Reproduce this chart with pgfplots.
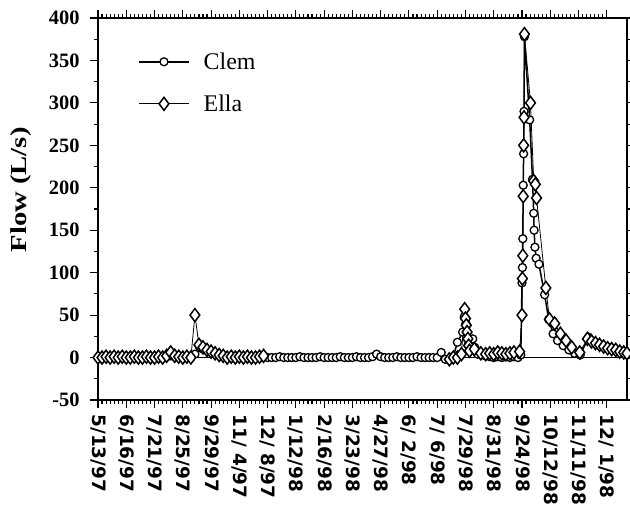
\documentclass[border=0pt]{standalone}
\usepackage{fontspec}
\setmainfont{Liberation Serif}
\newfontfamily\xfont{DejaVu Sans}
\usepackage{graphicx}
\usepackage{pgfplots}
\pgfplotsset{compat=1.18}
\begin{document}
\begin{tikzpicture}
\begin{axis}[
  name=ax,
  scale only axis,
  width=529bp, height=382bp,
  xmin=0, xmax=131,
  ymin=-50, ymax=400,
  ytick={-50,0,...,400},
  minor y tick num=1,
  xtick={0,7,...,126},
  xticklabels={5/13/97,6/16/97,7/21/97,8/25/97,9/29/97,11/ 4/97,12/ 8/97,1/12/98,2/16/98,3/23/98,4/27/98,6/ 2/98,7/ 6/98,7/29/98,8/31/98,9/24/98,10/12/98,11/11/98,12/ 1/98},
  minor x tick num=6,
  tick align=outside,
  major tick length=8bp, minor tick length=4bp,
  axis line style={line width=1.6bp},
  every tick/.style={black, line width=1.1bp},
  /pgf/number format/assume math mode=true,
  yticklabel style={font=\bfseries\fontsize{20.5}{20.5}\selectfont},
  yticklabel shift=7bp,
  xticklabel style={font=\xfont\bfseries\fontsize{18.5}{18.5}\selectfont, rotate=-90, anchor=west},
  xticklabel shift=3bp,
  ylabel={\scalebox{1.25}[1]{\bfseries Flow (L/s)}},
  ylabel style={font=\fontsize{23}{23}\selectfont, at={(axis description cs:-0.145,0.55)}, anchor=center},
  unbounded coords=jump,
  legend style={at={(0.07,0.92)}, anchor=north west, draw=none, fill=none,
    font=\fontsize{24}{24}\selectfont, row sep=20bp, column sep=12bp},
  legend cell align=left,
  legend image code/.code={\draw[mark repeat=2,mark phase=2] plot coordinates {(0bp,0bp) (25bp,0bp) (50bp,0bp)};},
]
% zero line
\addplot[black, line width=1bp, forget plot] coordinates {(0,0) (131,0)};

% Clem
\addplot[black, line width=1.5bp, mark=*, mark size=4bp,
  mark options={fill=white, line width=1.3bp, solid}] coordinates {
(0,0) (1,0) (2,0) (3,1) (4,0) (5,0) (6,0) (7,1) (8,0) (9,0) (10,0) (11,1) (12,0) (13,0)
(14,0) (15,1) (16,0) (17,1) (18,2) (19,1) (20,0) (21,0) (22,1) (23,0) (24,4) (25,14)
(26,10) (27,8) (28,6) (29,5) (30,3) (31,2) (32,1) (33,0) (34,1) (35,0) (36,0) (37,1)
(38,0) (39,0) (40,0) (41,1) (42,0) (43,0) (44,0) (45,1) (46,0) (47,0) (48,0) (49,0)
(50,1) (51,0) (52,0) (53,0) (54,0) (55,1) (56,0) (57,0) (58,0) (59,0) (60,1) (61,0)
(62,0) (63,0) (64,1) (65,0) (66,0) (67,0) (68,1) (69,4) (70,1) (71,0) (72,0) (73,0)
(74,1) (75,0) (76,0) (77,0) (78,0) (79,1) (80,0) (81,0) (82,0) (83,0) (84,0) (85,6)
(86,-2) (87,-3) (88,1) (89,18) (90.3,30) (90.7,48) (91.1,40) (91.3,30) (91.5,22)
(91.7,15) (92.0,8) (92.8,22) (93.3,12) (94,4) (95,3) (96,2) (97,1) (98,0) (99,1)
(100,0) (101,1) (102,0) (103,1) (104,0) (104.7,3) (105.0,88) (105.1,106) (105.2,140)
(105.3,203) (105.4,240) (105.5,290) (105.6,378) (106.9,280) (107.6,210) (107.9,170)
(108.0,150) (108.2,130) (108.5,117) (109.2,110) (110.6,74) (111.6,45) (112.7,28)
(113.8,20) (115.2,14) (116.6,9) (118,5) (119.4,3) (121.5,24) (122.5,18) (123.5,16)
(124.5,14) (125.5,12) (126.5,10) (127.5,9) (128.5,7) (129.5,6) (130.5,4) (131,3)
};
\addlegendentry{Clem}

% Ella
\addplot[black, line width=0.8bp, mark=diamond*, mark size=6.5bp,
  mark options={fill=white, line width=1.5bp, solid}] coordinates {
(0,0) (1,0) (2,1) (3,0) (4,1) (5,0) (6,1) (7,0) (8,0) (9,1) (10,0) (11,0) (12,1) (13,0)
(14,0) (15,1) (16,0) (17,2) (18,6) (19,2) (20,1) (21,0) (22,1) (23,0) (24,50) (25,15)
(26,12) (27,9) (28,7) (29,5) (30,3) (31,2) (32,0) (33,1) (34,0) (35,1) (36,0) (37,1)
(38,0) (39,0) (40,1) (41,2) (42,nan)
(87,-2) (88,0) (89,0) (90,4) (90.8,57) (91.0,46) (91.2,38) (91.4,30) (91.6,22)
(91.8,14) (92.0,8) (93.2,10) (94.8,5) (96,4) (97,5) (98,4) (99,6) (100,5) (101,4)
(102,5) (103,6) (104.4,7) (105.0,50) (105.1,93) (105.2,120) (105.3,190) (105.4,250)
(105.5,283) (105.6,381) (107.1,300) (107.9,208) (108.3,204) (108.6,188) (110.9,82)
(111.8,45) (113.1,40) (114.5,28) (115.9,20) (117.3,12) (119.3,6) (121.2,22) (122.2,19)
(123.2,17) (124.2,15) (125.2,13) (126.2,11) (127.2,10) (128.2,9) (129.2,7) (130.2,6)
(131,5)
};
\addlegendentry{Ella}
\end{axis}
\pgfresetboundingbox
\useasboundingbox ([shift={(-98bp,-106bp)}]ax.south west) rectangle ([shift={(3bp,18bp)}]ax.north east);
\end{tikzpicture}
\end{document}
